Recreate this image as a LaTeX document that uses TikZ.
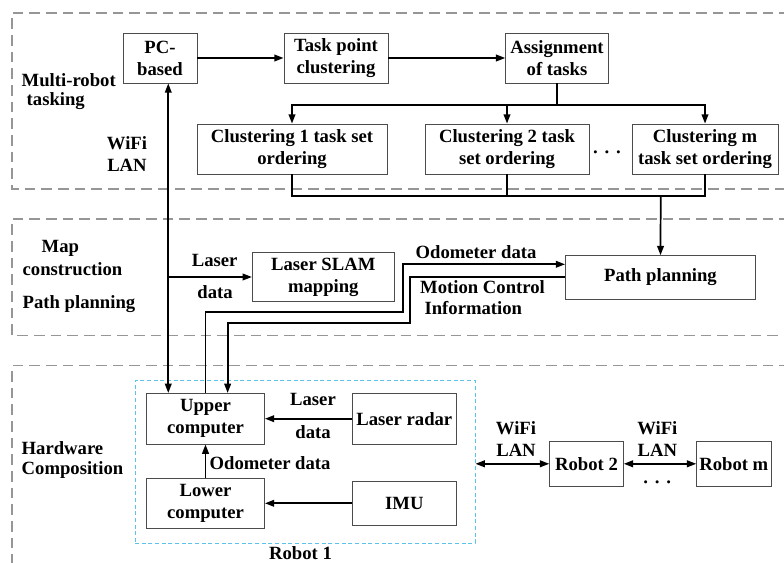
\documentclass[tikz,border=0pt]{standalone}
\usepackage{fontspec}
\setmainfont{Liberation Serif}
\usetikzlibrary{arrows.meta}
\definecolor{panelgray}{RGB}{150,150,150}
\definecolor{robotcyan}{RGB}{90,195,230}
\begin{document}
\begin{tikzpicture}[x=0.75pt,y=-0.75pt,
    every node/.style={font=\fontsize{14}{16.5}\selectfont\bfseries},
    blk/.style={draw=black!70,line width=0.6pt,align=center,inner sep=1pt,minimum height=37.5pt},
    panel/.style={draw=panelgray,line width=0.8pt,dash pattern=on 8pt off 4.5pt},
    robotbox/.style={draw=robotcyan,line width=0.7pt,dash pattern=on 3pt off 2pt,inner sep=0pt},
    conn/.style={line width=1.3pt,-{Triangle[length=7pt,width=5pt]}},
    biconn/.style={line width=1.3pt,{Triangle[length=7pt,width=5pt]}-{Triangle[length=7pt,width=5pt]}},
    link/.style={line width=1.3pt}]
    \useasboundingbox (0,0) rectangle (784,563);
    % three layers
    \draw [panel] (790,13) -- (12,13) -- (12,189) -- (790,189);
    \draw [panel] (790,219) -- (12,219) -- (12,335.7) -- (790,335.7);
    \draw [panel] (790,365.7) -- (12,365.7) -- (12,570);
        \node [anchor=west] (lyr1a) at (17,80) {Multi-robot};
        \node [anchor=west] (lyr1b) at (22,101) {tasking};
        \node [anchor=west] (lyr2a) at (37,248) {Map};
        \node [anchor=west] (lyr2b) at (18,269) {construction};
        \node [anchor=west] (lyr2c) at (18,304) {Path planning};
        \node [anchor=west] (lyr3a) at (17,448) {Hardware};
        \node [anchor=west] (lyr3b) at (17,470) {Composition};
    % task allocation
    \node [blk,minimum width=55.5pt] (pc) at (160,58) {PC-\\based};
    \node [blk,minimum width=78pt] (cluster) at (336,58) {Task point\\clustering};
    \node [blk,minimum width=77pt] (assign) at (557,58) {Assignment\\of tasks};
    \node [blk,minimum width=142.5pt] (c1) at (292,149) {Clustering 1 task set\\ordering};
    \node [blk,minimum width=123pt] (c2) at (507,149) {Clustering 2 task\\set ordering};
    \node [blk,minimum width=109.5pt] (cm) at (705,149) {Clustering m\\task set ordering};
    \node (cdots) at (607,155) {·\hspace{4pt}·\hspace{4pt}·};
    \draw [conn] (pc) -- (cluster);
    \draw [conn] (cluster) -- (assign);
    \coordinate (split) at (557,105);
    \coordinate (merge) at (660.7,196);
    \draw [link] (assign.south) -- (split);
    \draw [conn] (split) -| (c1.north);
    \draw [conn] (split) -| (c2.north);
    \draw [conn] (split) -| (cm.north);
    \draw [link] (c1.south) |- (merge);
    \draw [link] (c2.south) |- (merge);
    \draw [link] (cm.south) |- (merge);
    % mapping and planning
    \node [blk,minimum width=106.5pt,minimum height=37pt] (slam) at (323.3,277) {Laser SLAM\\mapping};
    \node [blk,minimum width=142.5pt,minimum height=32.5pt] (path) at (660.5,277.3) {Path planning};
    \draw [conn] (merge) -- (path.north);
    % robot 1
    \node [robotbox,minimum width=255pt,minimum height=122pt] (robot1) at (305,462) {};
    \node (robot1lbl) at (300.5,553.3) {Robot 1};
    \node [blk,minimum width=88.5pt,minimum height=38pt] (upper) at (205.5,418.7) {Upper\\computer};
    \node [blk,minimum width=88.5pt] (lower) at (205.5,503.3) {Lower\\computer};
    \node [blk,minimum width=77.5pt,minimum height=38pt] (radar) at (404.3,418.7) {Laser radar};
    \node [blk,minimum width=77.5pt,minimum height=33.5pt] (imu) at (404.3,503.3) {IMU};
    \draw [conn] (radar) -- (upper);
    \draw [conn] (imu) -- (lower);
    \draw [conn] (lower) -- (upper);
        \node (lsr2a) at (313,399) {Laser};
        \node (lsr2b) at (313,431.7) {data};
        \node [anchor=west] (odo2) at (205,462.7) {Odometer data};
    % wireless link to the host
    \draw [biconn] ([xshift=6.2pt]pc.south) -- ([xshift=6.2pt]pc.south |- upper.north);
    \node [align=center] (wifi1) at (127,154) {WiFi\\LAN};
    \coordinate (lan) at (168.3,277);
    \draw [conn] (lan) -- (slam.west);
        \node (lsr1a) at (214.7,260) {Laser};
        \node (lsr1b) at (215,292.3) {data};
    \draw [conn] (upper.north) |- (403.3,312) |- ([yshift=9.75pt]path.west);
    \draw [conn] (path.west) -| (410,323.3) -| ([xshift=16.6pt]upper.north);
        \node (odo1) at (476,251.7) {Odometer data};
        \node (mot1) at (482.5,286.7) {Motion Control};
        \node (mot2) at (473.3,307.7) {Information};
    % other robots
    \node [blk,minimum width=55.3pt,minimum height=33.2pt] (robot2) at (586.5,463.8) {Robot 2};
    \node [blk,minimum width=55.7pt,minimum height=33.2pt] (robotm) at (733.8,463.8) {Robot m};
    \draw [biconn] (robot1.east |- robot2.west) -- (robot2.west);
    \draw [biconn] (robot2) -- (robotm);
    \node [align=center] (wifi2) at (516,439.5) {WiFi\\LAN};
    \node [align=center] (wifi3) at (657.3,439.5) {WiFi\\LAN};
    \node (rdots) at (657.3,485) {·\hspace{4pt}·\hspace{4pt}·};
  \end{tikzpicture}
\end{document}
